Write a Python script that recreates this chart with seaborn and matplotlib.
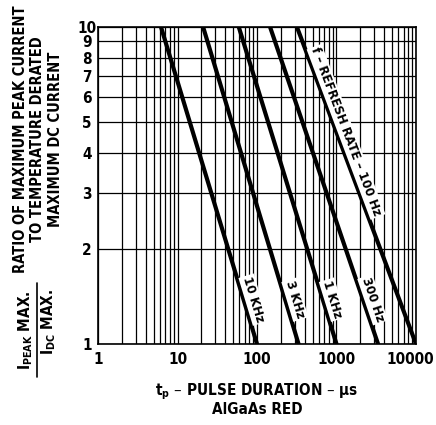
import numpy as np
import pandas as pd
import matplotlib
matplotlib.use('Agg')
import matplotlib.pyplot as plt
import matplotlib.transforms as mtransforms
import seaborn as sns
from matplotlib import font_manager
from matplotlib.ticker import FixedLocator, NullFormatter, NullLocator

# refresh rate curves: pulse duration (us) where ratio is 10 and where it falls to 1
freqs = ['10 KHz', '3 KHz', '1 KHz', '300 Hz', '100 Hz']
tp_at_10 = [6.2, 21, 59, 146, 318]
tp_at_1 = [100, 333, 1000, 3333, 10000]
ratio_top = 10
ratio_bottom = 1

x_ticks = [1, 10, 100, 1000, 10000]
y_ticks = [1, 2, 3, 4, 5, 6, 7, 8, 9, 10]

rows = []
for f, a, b in zip(freqs, tp_at_10, tp_at_1):
    rows.append({'freq': f, 'tp': a, 'ratio': ratio_top})
    rows.append({'freq': f, 'tp': b, 'ratio': ratio_bottom})
df = pd.DataFrame(rows)

sns.set_style('white')
names = {f.name for f in font_manager.fontManager.ttflist}
if 'Liberation Sans Narrow' in names:
    plt.rcParams['font.family'] = ['Liberation Sans Narrow', 'DejaVu Sans']
else:
    plt.rcParams['font.family'] = ['DejaVu Sans']
    plt.rcParams['font.stretch'] = 'condensed'
plt.rcParams['font.weight'] = 'bold'
plt.rcParams['mathtext.default'] = 'regular'
for k in ['text.color', 'axes.labelcolor', 'xtick.color', 'ytick.color']:
    plt.rcParams[k] = 'black'

fig = plt.figure(figsize=(4.36, 4.25), dpi=100)
ax = fig.add_axes([0.2248, 0.1906, 0.7293, 0.7459])

ax.set_xscale('log')
ax.set_yscale('log')

sns.lineplot(data=df, x='tp', y='ratio', hue='freq', palette=['black'] * len(freqs),
             linewidth=3, legend=False, estimator=None, sort=False, ax=ax)

ax.set_xlim(1, 10000)
ax.set_ylim(1, 10)

# grid
ax.xaxis.set_major_locator(FixedLocator(x_ticks))
minors = [m * d for d in [1, 10, 100, 1000] for m in range(2, 10)]
ax.xaxis.set_minor_locator(FixedLocator(minors))
ax.xaxis.set_minor_formatter(NullFormatter())
ax.set_xticklabels([str(v) for v in x_ticks])
ax.yaxis.set_major_locator(FixedLocator(y_ticks))
ax.yaxis.set_minor_locator(NullLocator())
ax.set_yticklabels([str(v) for v in y_ticks])
ax.grid(True, which='both', color='black', linewidth=0.9)
ax.tick_params(which='both', length=0, labelsize=11)
ax.tick_params(axis='x', pad=6)
ax.tick_params(axis='y', pad=8)
for lab in ax.get_yticklabels():
    lab.set_horizontalalignment('center')
# keep the last x label inside the figure
last = ax.get_xticklabels()[-1]
last.set_transform(last.get_transform() +
                   mtransforms.ScaledTranslation(-4 / 72, 0, fig.dpi_scale_trans))
for s in ax.spines.values():
    s.set_color('black')
    s.set_linewidth(1.2)

ax.set_xlabel('t$_p$ – PULSE DURATION – μs\nAlGaAs RED', fontsize=11,
              fontweight='bold', labelpad=10, linespacing=1.05)
ax.set_ylabel('')

# curve labels along the lines
fig.canvas.draw()
for i, (f, a, b) in enumerate(zip(freqs, tp_at_10, tp_at_1)):
    p0 = ax.transData.transform((a, ratio_top))
    p1 = ax.transData.transform((b, ratio_bottom))
    ang = np.degrees(np.arctan2(p1[1] - p0[1], p1[0] - p0[0]))
    if f == '100 Hz':
        yv = 4.67
        txt = 'f – REFRESH RATE – 100 Hz'
    else:
        yv = 1.38
        txt = f
    t = (np.log10(yv) - np.log10(ratio_top)) / (np.log10(ratio_bottom) - np.log10(ratio_top))
    xv = 10 ** (np.log10(a) + t * (np.log10(b) - np.log10(a)))
    ax.annotate(txt, (xv, yv), xytext=(7, 0), textcoords='offset points',
                rotation=ang, rotation_mode='anchor', ha='center', va='center',
                fontsize=9.5, fontweight='bold',
                bbox=dict(facecolor='white', edgecolor='none', pad=1))

# y axis label block
fig.text(0.087, 0.672, 'RATIO OF MAXIMUM PEAK CURRENT\nTO TEMPERATURE DERATED\nMAXIMUM DC CURRENT',
         rotation=90, ha='center', va='center', multialignment='center',
         fontsize=10.5, fontweight='bold', linespacing=1.2)
fig.text(0.058, 0.224, 'I$_{PEAK}$ MAX.', rotation=90, ha='center', va='center',
         fontsize=11, fontweight='bold')
fig.text(0.112, 0.242, 'I$_{DC}$ MAX.', rotation=90, ha='center', va='center',
         fontsize=11, fontweight='bold')
fig.add_artist(plt.Line2D([0.085, 0.085], [0.113, 0.334], color='black', linewidth=1.2))

fig.savefig('out.png', dpi=100)
